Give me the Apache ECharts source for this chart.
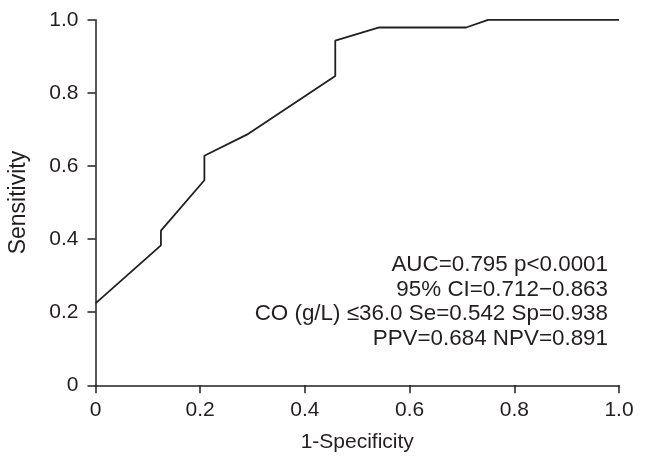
<!DOCTYPE html>
<html><head><meta charset="utf-8">
<script src="https://cdn.jsdelivr.net/npm/echarts@6/dist/echarts.min.js"></script>
<style>html,body{margin:0;padding:0;background:#fff}#c{width:646px;height:469px}</style>
</head><body><div id="c"></div>
<script>
const fpr = [0, 0.125, 0.125, 0.208, 0.208, 0.292, 0.458, 0.458, 0.542, 0.708, 0.75, 1.0];
const tpr = [0.224, 0.383, 0.423, 0.561, 0.628, 0.688, 0.846, 0.943, 0.979, 0.979, 1.0, 1.0];
const xTicks = ['0', '0.2', '0.4', '0.6', '0.8', '1.0'];
const yTicks = ['0', '0.2', '0.4', '0.6', '0.8', '1.0'];
const annotation = [
  'AUC=0.795 p<0.0001',
  '95% CI=0.712\u22120.863',
  'CO (g/L) \u226436.0 Se=0.542 Sp=0.938',
  'PPV=0.684 NPV=0.891'
];
const xName = '1-Specificity';
const yName = 'Sensitivity';

const FONT = '"Liberation Sans", Arial, sans-serif';
const INK = '#231f20';
const chart = echarts.init(document.getElementById('c'), null, {renderer: 'canvas'});
const fmt = (list) => (v) => list[Math.round(v / 0.2)];
chart.setOption({
  animation: false,
  backgroundColor: '#fff',
  grid: {left: 95.5, right: 27, top: 19.8, bottom: 83.7, containLabel: false, outerBoundsMode: 'none'},
  xAxis: {
    type: 'value', min: 0, max: 1, interval: 0.2,
    name: xName, nameLocation: 'middle', nameGap: 46,
    nameTextStyle: {fontFamily: FONT, fontSize: 21, color: INK},
    axisLine: {show: true, lineStyle: {color: INK, width: 1.5}},
    axisTick: {show: true, inside: false, length: 8, lineStyle: {color: INK, width: 1.5}},
    axisLabel: {fontFamily: FONT, fontSize: 21, color: INK, margin: 14, formatter: fmt(xTicks)},
    splitLine: {show: false}
  },
  yAxis: {
    type: 'value', min: 0, max: 1, interval: 0.2,
    name: yName, nameLocation: 'middle', nameGap: 65, nameRotate: 90,
    nameTextStyle: {fontFamily: FONT, fontSize: 23, color: INK},
    axisLine: {show: true, lineStyle: {color: INK, width: 1.5}},
    axisTick: {show: true, inside: false, length: 8, lineStyle: {color: INK, width: 1.5}},
    axisLabel: {fontFamily: FONT, fontSize: 21, color: INK, margin: 17, formatter: fmt(yTicks)},
    splitLine: {show: false}
  },
  series: [{
    type: 'line',
    data: fpr.map((x, i) => [x, tpr[i]]),
    showSymbol: false,
    lineStyle: {color: INK, width: 1.8},
    silent: true
  }],
  graphic: annotation.map((t, i) => ({
    type: 'text',
    x: 608, y: 254 + i * 24.6,
    style: {
      text: t,
      fontFamily: FONT, fontSize: 22.4, fill: INK,
      align: 'right', verticalAlign: 'top'
    }
  }))
});
</script></body></html>
